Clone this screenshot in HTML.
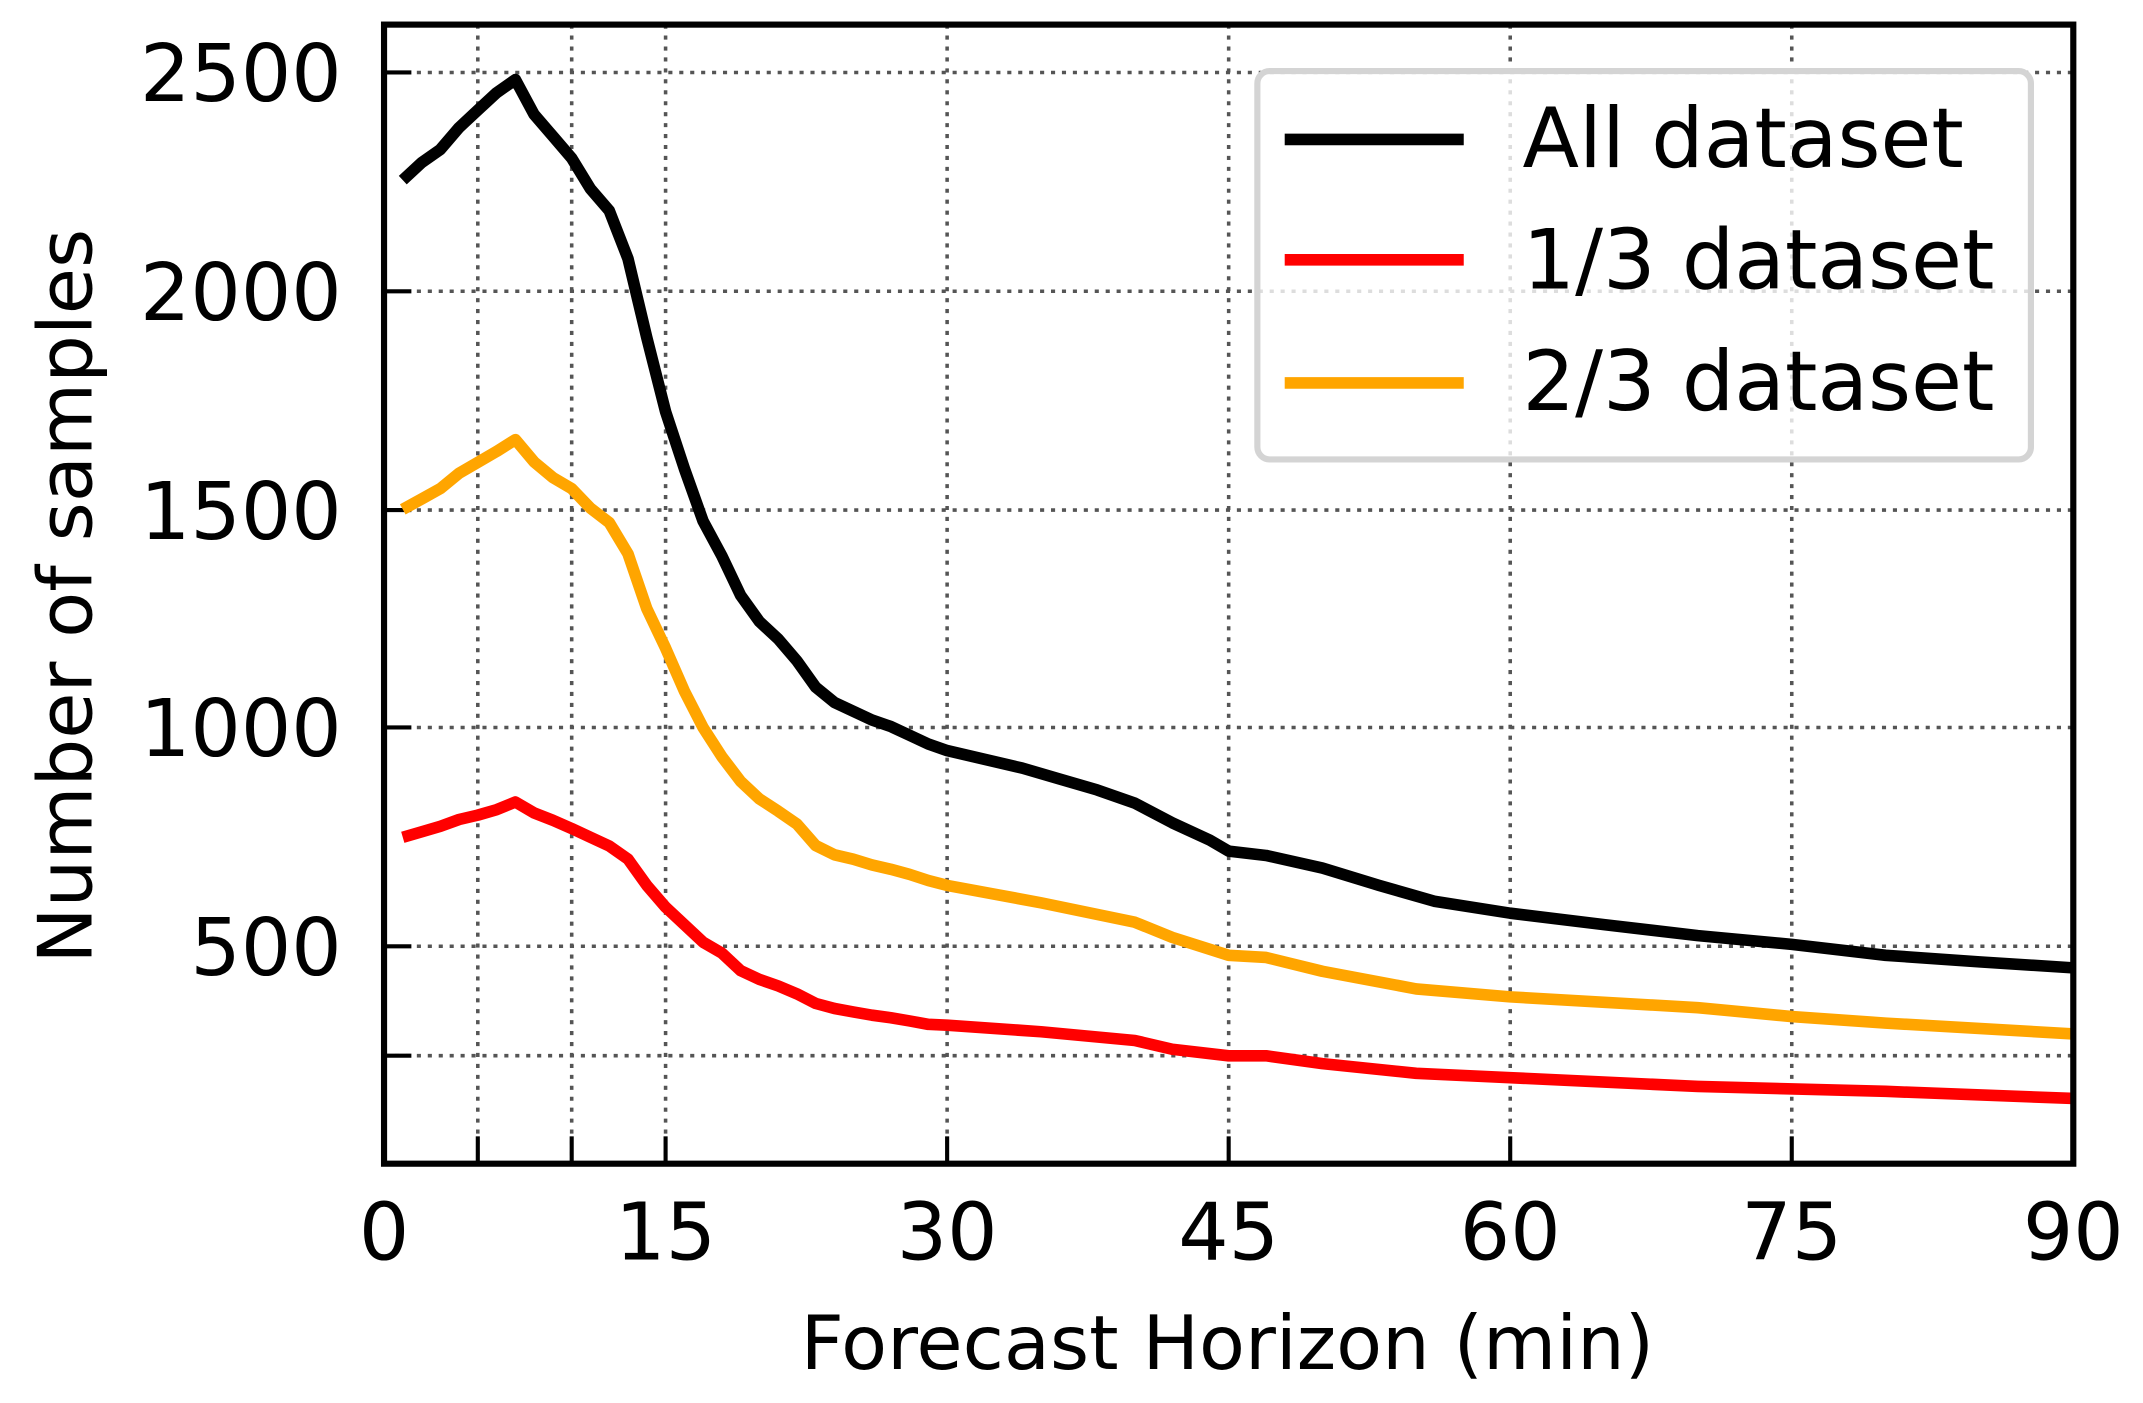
<!DOCTYPE html>
<html><head><meta charset="utf-8"><style>html,body{margin:0;padding:0;background:#fff}svg{display:block}</style></head>
<body>
<svg width="2143" height="1403" viewBox="0 0 1568 1026" preserveAspectRatio="none" xmlns="http://www.w3.org/2000/svg" font-family="DejaVu Sans, Liberation Sans, sans-serif">
<rect width="1568" height="1026" fill="#fff"/>
<g stroke="#555" stroke-width="2.6" stroke-dasharray="3,5">
<line x1="349.6" y1="18" x2="349.6" y2="851"/>
<line x1="418.3" y1="18" x2="418.3" y2="851"/>
<line x1="487" y1="18" x2="487" y2="851"/>
<line x1="693" y1="18" x2="693" y2="851"/>
<line x1="899" y1="18" x2="899" y2="851"/>
<line x1="1105" y1="18" x2="1105" y2="851"/>
<line x1="1311" y1="18" x2="1311" y2="851"/>
<line x1="281" y1="53" x2="1517" y2="53"/>
<line x1="281" y1="213" x2="1517" y2="213"/>
<line x1="281" y1="373" x2="1517" y2="373"/>
<line x1="281" y1="532" x2="1517" y2="532"/>
<line x1="281" y1="692" x2="1517" y2="692"/>
<line x1="281" y1="772" x2="1517" y2="772"/>
</g>
<g stroke="#000" stroke-width="3">
<line x1="349.6" y1="851" x2="349.6" y2="831"/>
<line x1="418.3" y1="851" x2="418.3" y2="831"/>
<line x1="487" y1="851" x2="487" y2="831"/>
<line x1="693" y1="851" x2="693" y2="831"/>
<line x1="899" y1="851" x2="899" y2="831"/>
<line x1="1105" y1="851" x2="1105" y2="831"/>
<line x1="1311" y1="851" x2="1311" y2="831"/>
<line x1="281" y1="53" x2="301" y2="53"/>
<line x1="281" y1="213" x2="301" y2="213"/>
<line x1="281" y1="373" x2="301" y2="373"/>
<line x1="281" y1="532" x2="301" y2="532"/>
<line x1="281" y1="692" x2="301" y2="692"/>
<line x1="281" y1="772" x2="301" y2="772"/>
</g>
<g fill="none" stroke-width="8.5" stroke-linejoin="round">
<polyline stroke="#000" points="294.7,131.7 308.5,118.9 322.2,109.3 335.9,93.3 349.6,80.5 363.4,67.8 377.1,58.2 390.8,83.7 404.6,99.7 418.3,115.7 432,138.1 445.8,154.1 459.5,189.2 473.2,246.7 487,301.1 500.7,342.6 514.4,381 528.2,406.6 541.9,435.4 555.6,454.5 569.4,467.3 583.1,483.3 596.8,502.5 610.6,513.7 624.3,520.1 638,526.5 651.8,531.3 665.5,537.7 679.2,544.1 693,548.9 720.4,555.3 747.9,561.7 775.4,569.7 802.8,577.7 830.3,587.3 857.7,601.7 885.2,614.4 899,622.4 926.4,625.6 967.6,634.8 1008.8,647.4 1050,659.2 1105,667.8 1173.6,676.2 1242.3,684.2 1311,690.6 1379.7,698.6 1448.3,703.4 1517,707.8"/>
<polyline stroke="#ffa500" points="294.7,372.5 308.5,364.9 322.2,357.3 335.9,346.1 349.6,338.1 363.4,330.1 377.1,321.5 390.8,337.8 404.6,349.3 418.3,357.3 432,371.6 445.8,382.2 459.5,405 473.2,445 487,474 500.7,505.3 514.4,532 528.2,553.4 541.9,571.4 555.6,584.2 569.4,593.2 583.1,602.6 596.8,618.3 610.6,625.1 624.3,628.3 638,632.5 651.8,635.7 665.5,639.4 679.2,643.9 693,647.5 761.7,660.2 830.3,674.4 857.7,685.5 899,698.6 926.4,700.2 967.6,710.3 1036.2,723.2 1105,729 1242.3,736.9 1311,743.4 1379.7,748.2 1517,756.1"/>
<polyline stroke="#ff0000" points="294.7,612.3 308.5,608.3 322.2,604.3 335.9,599.3 349.6,596.1 363.4,592.1 377.1,586.5 390.8,594.5 404.6,599.9 418.3,605.9 432,612.3 445.8,618.7 459.5,628.3 473.2,647.4 487,663.4 500.7,676.2 514.4,689 528.2,697 541.9,709.8 555.6,716.2 569.4,721 583.1,726.8 596.8,733.8 610.6,737.5 624.3,740 638,742.4 651.8,744.3 665.5,746.6 679.2,749.1 693,749.7 761.7,754.5 830.3,760.9 857.7,767.3 899,772.1 926.4,772.1 967.6,777.8 1036.2,784.9 1105,788.1 1242.3,794.5 1379.7,798.1 1517,803.3"/>
</g>
<rect x="281" y="18" width="1236" height="833" fill="none" stroke="#000" stroke-width="4.5"/>
<rect x="920" y="52" width="566" height="284" rx="9" fill="#fff" fill-opacity="0.8" stroke="#d4d4d4" stroke-width="4.5"/>
<line x1="940" y1="102" x2="1071" y2="102" stroke="#000" stroke-width="8.5"/>
<line x1="940" y1="190" x2="1071" y2="190" stroke="#ff0000" stroke-width="8.5"/>
<line x1="940" y1="280" x2="1071" y2="280" stroke="#ffa500" stroke-width="8.5"/>
<g font-size="60.5" fill="#000">
<text x="1114" y="122">All dataset</text>
<text x="1114" y="211">1/3 dataset</text>
<text x="1114" y="300">2/3 dataset</text>
</g>
<g font-size="58" fill="#000" text-anchor="end">
<text x="250" y="74">2500</text>
<text x="250" y="234">2000</text>
<text x="250" y="394">1500</text>
<text x="250" y="553">1000</text>
<text x="250" y="713">500</text>
</g>
<g font-size="58" fill="#000" text-anchor="middle">
<text x="281" y="921">0</text>
<text x="487" y="921">15</text>
<text x="693" y="921">30</text>
<text x="899" y="921">45</text>
<text x="1105" y="921">60</text>
<text x="1311" y="921">75</text>
<text x="1517" y="921">90</text>
</g>
<g font-size="55" fill="#000" text-anchor="middle">
<text x="898" y="1001">Forecast Horizon (min)</text>
<text transform="translate(67,436) rotate(-90)">Number of samples</text>
</g>
</svg>
</body></html>
